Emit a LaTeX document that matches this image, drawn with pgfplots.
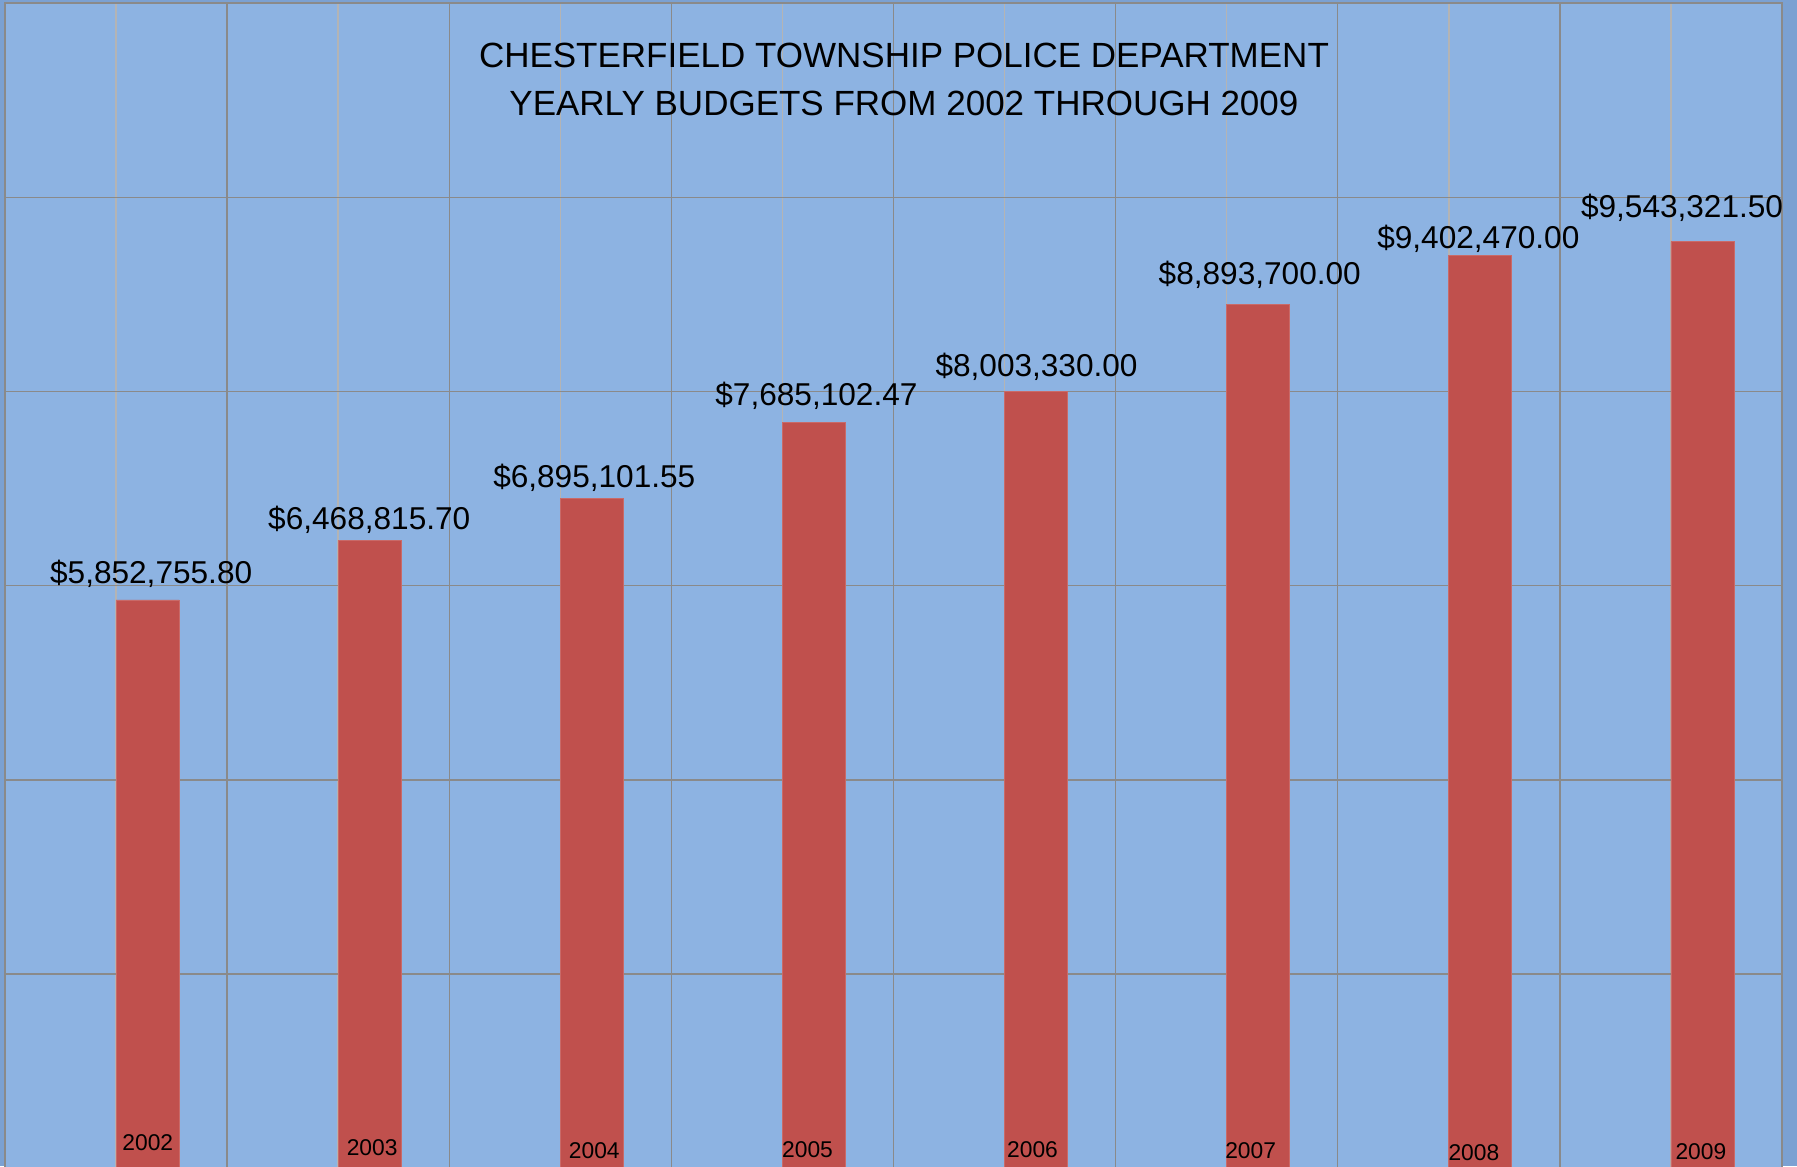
\documentclass[border=0pt]{standalone}
\usepackage{fontspec}
\setmainfont{Liberation Sans}
\usepackage{pgfplots}
\pgfplotsset{compat=1.18}
\definecolor{bgblue}{HTML}{8DB3E2}
\definecolor{barred}{HTML}{C0504D}
\definecolor{gridd}{HTML}{8A8A8A}
\definecolor{gridl}{HTML}{B4B4B4}
\definecolor{frameblue}{HTML}{7BA1D2}
\begin{document}
\begin{tikzpicture}
\fill[frameblue] (0,0) rectangle (898.5pt,583pt);
\begin{axis}[at={(2.5pt,-1.2pt)}, anchor=south west, scale only axis,
  width=888.5pt, height=582.7pt,
  xmin=-0.5, xmax=7.5, ymin=0, ymax=12000000,
  xtick={-0.5,0.5,1.5,2.5,3.5,4.5,5.5,6.5,7.5},
  minor xtick={0,1,2,3,4,5,6,7},
  ytick={0,2000000,4000000,6000000,8000000,10000000,12000000},
  xticklabels={}, yticklabels={}, scaled y ticks=false,
  major tick length=0pt, minor tick length=0pt,
  grid=both,
  major grid style={gridd, line width=0.7pt},
  minor grid style={gridl, line width=0.7pt},
  axis line style={gridd, line width=0.7pt},
  axis background/.style={fill=bgblue},
  clip=false,
]
\addplot[ybar, bar width=31.5pt, bar shift=15.75pt, fill=barred, draw=barred!85!white, line width=0.4pt]
  coordinates {(0,5852755.80) (1,6468815.70) (2,6895101.55) (3,7685102.47)
               (4,8003330.00) (5,8893700.00) (6,9402470.00) (7,9543321.50)};
% title
\node[anchor=base, font=\fontsize{17.5}{21}\selectfont] at (axis cs:3.547,11339500) {CHESTERFIELD TOWNSHIP POLICE DEPARTMENT};
\node[anchor=base, font=\fontsize{17.5}{21}\selectfont] at (axis cs:3.547,10844200) {YEARLY BUDGETS FROM 2002 THROUGH 2009};
% value labels
\begin{scope}[every node/.style={anchor=base, font=\fontsize{15.8}{19}\selectfont, inner sep=0pt}]
\node at (axis cs:0.158,6025770) {\$5,852,755.80};
\node at (axis cs:1.140,6582900) {\$6,468,815.70};
\node at (axis cs:2.153,7005990) {\$6,895,101.55};
\node at (axis cs:3.153,7852000) {\$7,685,102.47};
\node at (axis cs:4.144,8151200) {\$8,003,330.00};
\node at (axis cs:5.149,9100500) {\$8,893,700.00};
\node at (axis cs:6.133,9472000) {\$9,402,470.00};
\node at (axis cs:7.050,9791900) {\$9,543,321.50};
\end{scope}
% year labels
\begin{scope}[every node/.style={anchor=base, font=\fontsize{11.4}{13}\selectfont, inner sep=0pt}]
\node at (axis cs:0.143,185000) {2002};
\node at (axis cs:1.153,133500) {2003};
\node at (axis cs:2.153,102500) {2004};
\node at (axis cs:3.113,112900) {2005};
\node at (axis cs:4.126,112900) {2006};
\node at (axis cs:5.108,102500) {2007};
\node at (axis cs:6.113,81900) {2008};
\node at (axis cs:7.135,92200) {2009};
\end{scope}
\end{axis}
\pgfresetboundingbox
\useasboundingbox (0,0) rectangle (898.5pt,583pt);
\end{tikzpicture}
\end{document}
